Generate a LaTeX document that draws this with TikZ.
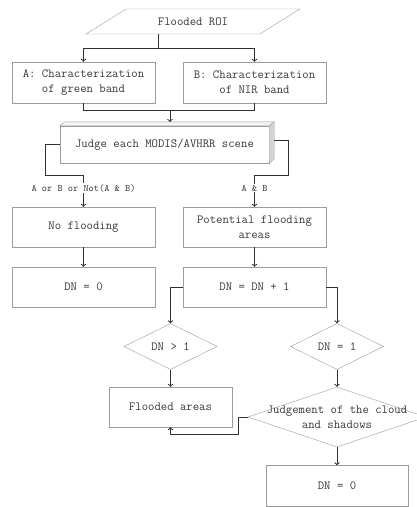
\documentclass[tikz,border=0pt]{standalone}
\usepackage{fontspec}
\usepackage{tikz}
\usepackage{xcolor}
\usetikzlibrary{shapes.geometric,calc}
\definecolor{boxline}{HTML}{9C9C9C}
\definecolor{flowline}{HTML}{303030}
\definecolor{boxtext}{HTML}{383838}
\definecolor{sideface}{HTML}{D4D4D4}

\begin{document}
\begin{tikzpicture}[x=1pt, y=-1pt,
        font=\ttfamily\fontsize{12.4}{15}\selectfont, text=boxtext,
        stepbox/.style={shape=rectangle, draw=boxline, minimum width=143pt, minimum height=41pt, align=center, inner sep=0pt},
        decision/.style={shape=diamond, draw=boxline, inner sep=0pt},
        flow/.style={->, draw=flowline, line width=1pt},
        link/.style={draw=flowline, line width=1pt},
        cond/.style={fill=white, inner sep=1pt, pos=0.4, font=\ttfamily\fontsize{9.9}{11}\selectfont}]
        \useasboundingbox (0,0) rectangle (417,507);
        % Input region
        \node[trapezium, trapezium left angle=20.5, trapezium right angle=159.5, trapezium stretches=true,
              draw=boxline, minimum width=214pt, minimum height=25pt, inner sep=0pt] (roi) at (193,21.5) {Flooded ROI};
        % Band characterization
        \node[stepbox] (A) at (83.5,82.5) {A: Characterization\\of green band};
        \node[stepbox] (B) at (254.5,82.5) {B: Characterization\\of NIR band};
        % Scene judgement (3D box)
        \node[stepbox, minimum width=209pt, minimum height=37pt] (judge) at (164.5,144.5) {Judge each MODIS/AVHRR scene};
        \draw[boxline, fill=black!4] (judge.north west) -- ++(5,-4) -- ($(judge.north east)+(5,-4)$) -- (judge.north east) -- cycle;
        \draw[boxline, fill=sideface] (judge.north east) -- ++(5,-4) -- ++(0,37) -- (judge.south east) -- cycle;
        % Left branch
        \node[stepbox, minimum height=40pt] (nofl) at (83.5,227) {No flooding};
        \node[stepbox, minimum height=40pt] (dnzero) at (83.5,287) {DN = 0};
        % Right branch
        \node[stepbox, minimum height=40pt] (pot) at (254.5,227) {Potential flooding\\areas};
        \node[stepbox, minimum height=40pt] (dnplus) at (254.5,287) {DN = DN + 1};
        % Decisions
        \node[decision, minimum width=93pt, minimum height=39pt] (gt) at (170.5,346.5) {DN > 1};
        \node[decision, minimum width=93pt, minimum height=39pt] (eq) at (337,346.5) {DN = 1};
        \node[stepbox, minimum width=123pt, minimum height=40pt] (flooded) at (170.5,407) {Flooded areas};
        \node[decision, minimum width=178pt, minimum height=60pt] (cloud) at (337,417) {};
        \node[align=center] (cloudtext) at (cloud.center) {Judgement of the cloud\\and shadows};
        \node[stepbox, minimum width=142pt, minimum height=40.5pt] (dnend) at (337,485.75) {DN = 0};
        % Arrows
        \coordinate (roiout) at (158,34);
        \draw[link] (roiout) -- ++(0,14) coordinate (split);
        \draw[flow] (split) -| (A.north);
        \draw[flow] (split) -| (B.north);
        \draw[link] (A.south) -- ++(0,7) -| (B.south);
        \coordinate (merge) at (170,110);
        \coordinate (judgetop) at (170,122);
        \draw[flow] (merge) -- (judgetop);
        \draw[flow] (judge.west) -- ++(-14,0) |- ($(nofl.north)+(0,-31)$) -- node[cond] {A or B or Not(A \& B)} (nofl.north);
        \draw[flow] ($(judge.east)+(5,-4)$) -- ++(14,0) |- ($(pot.north)+(0,-31)$) -- node[cond] {A \& B} (pot.north);
        \draw[flow] (nofl) -- (dnzero);
        \draw[flow] (pot) -- (dnplus);
        \draw[flow] (dnplus.west) -| (gt.north);
        \draw[flow] (dnplus.east) -| (eq.north);
        \draw[flow] (gt) -- (flooded);
        \draw[flow] (eq) -- (cloud);
        \draw[flow] (cloud.west) -- ++(-9,0) |- ($(flooded.south)+(0,7)$) -- (flooded.south);
        \draw[flow] (cloud) -- (dnend);
    \end{tikzpicture}
\end{document}
